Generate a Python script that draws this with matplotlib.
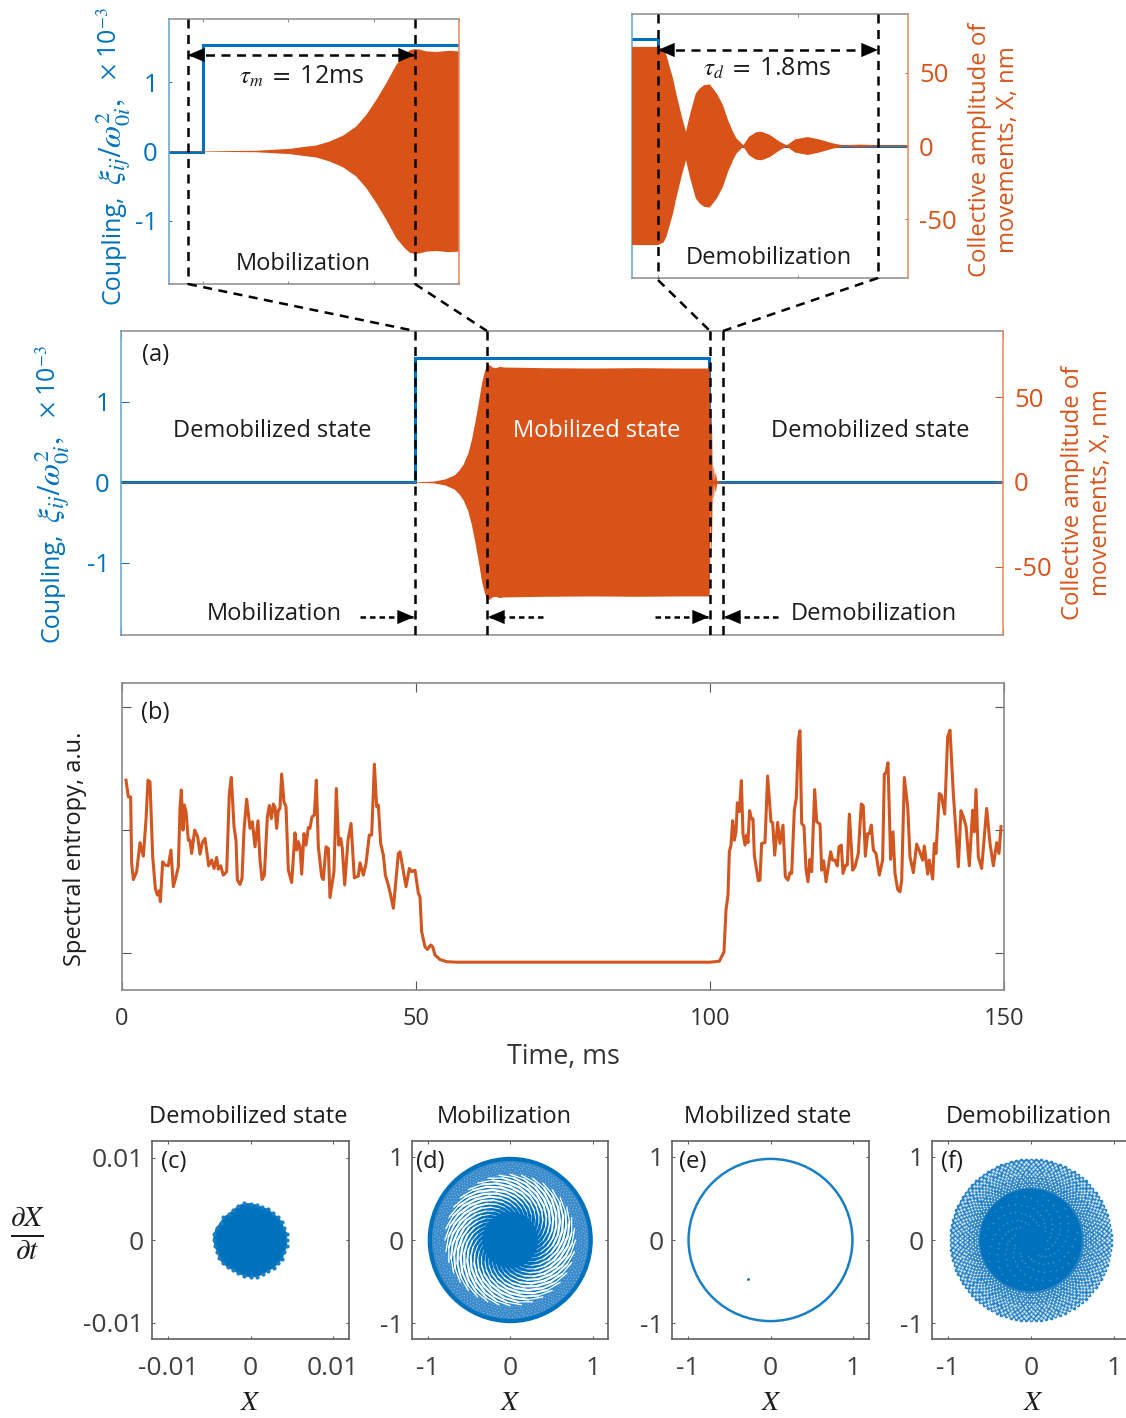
import matplotlib
matplotlib.use('Agg')
import matplotlib.pyplot as plt
import numpy as np
from matplotlib.collections import LineCollection
from matplotlib.patches import Circle, Ellipse, Wedge

plt.rcParams['font.family'] = ['Open Sans', 'DejaVu Sans']
plt.rcParams['mathtext.fontset'] = 'stix'

BLUE = '#0072BD'
ORANGE = '#D95319'
GREY = '#8a8a8a'
W, H = 1126, 1418

# coupling step
step_t = [0, 50, 50, 100, 100, 150]
step_val = [0, 0, 1.54, 1.54, 0, 0]

# envelope of the collective amplitude, nm
env_t = [0, 50, 53.1, 55.1, 55.86, 56.64, 57.42, 58.2, 58.98, 59.57, 60.16, 60.74, 61.33, 61.82, 62.11, 62.4, 62.7,
         63.09, 63.7, 64.4, 65, 72, 80, 88, 95,
         99.81, 100, 100.04, 100.06, 100.08, 100.107, 100.13, 100.17, 100.2, 100.23, 100.27, 100.298, 100.33, 100.37,
         100.42, 100.464, 100.5, 100.536, 100.56, 100.61, 100.65, 100.7, 100.74, 100.8, 100.87, 100.92, 100.98,
         101.07, 101.15, 101.25, 101.32, 101.44, 101.57, 101.79, 102, 150]
env_amp = [0.15, 0.15, 0.5, 1.8, 3, 4.1, 6.8, 10.7, 17, 24.9, 35.1, 46.4, 58.9, 65.7, 68.7, 69.6, 69.2,
           68, 67.6, 68.4, 68, 67.6, 67.4, 67.6, 67.4,
           67.4, 67.4, 65.6, 61.8, 55, 46, 35.7, 20, 9.7, 22, 35.7, 39.1, 41.4, 41.9,
           35.7, 27.8, 17.6, 9.7, 5.2, 0.5, 6.3, 9.3, 9.7, 7.5, 2.9, 0.5, 4.5,
           6.1, 4.5, 1.8, 0.5, 0.9, 0.5, 0.5, 0.15, 0.15]

# spectral entropy, a.u.
ent_t = [0.68, 1.08, 1.47, 1.64, 1.93, 2.49, 3.06, 3.63, 4.08, 4.42, 4.76, 5.22, 5.67, 6.01, 6.35, 6.52, 6.92,
         7.31, 7.88, 8.33, 8.73, 9.18, 9.58, 9.86, 10.09, 10.37, 10.60, 10.88, 11.28, 11.56, 11.85, 12.36,
         12.87, 13.27, 13.66, 14.12, 14.74, 15.25, 15.65, 16.10, 16.38, 16.78, 17.23, 17.80, 18.25, 18.59,
         19.05, 19.39, 19.62, 20.07, 20.41, 20.75, 21.20, 21.77, 22.17, 22.62, 23.13, 23.47, 23.81, 24.21,
         24.72, 25.06, 25.40, 25.74, 26.02, 26.30, 26.59, 26.87, 27.15, 27.55, 27.89, 28.29, 28.86, 29.42,
         29.71, 29.99, 30.27, 30.56, 30.95, 31.29, 31.69, 31.97, 32.31, 32.71, 33.05, 33.39, 33.96, 34.24,
         34.69, 35.09, 35.37, 36.05, 36.45, 36.85, 37.19, 37.47, 37.87, 38.44, 38.95, 39.51, 40.19, 40.48,
         41.04, 41.50, 42.06, 42.46, 42.92, 43.31, 43.59, 43.99, 44.45, 44.79, 45.30, 45.69, 46.15, 47.00,
         47.28, 48.30, 48.87, 49.26, 49.83, 50.40, 50.68, 50.96, 51.53, 51.93, 52.50, 52.83, 53.23, 54.08,
         55.22, 56.92, 100.0,
         101.59, 102.38, 102.72, 103.06, 103.29, 103.57, 103.85, 104.14, 104.42, 104.65, 104.99, 105.33,
         105.61, 105.95, 106.23, 106.46, 106.74, 107.03, 107.31, 107.54, 108.22, 108.50, 108.78, 109.35,
         109.80, 110.37, 110.66, 111.00, 111.51, 111.90, 112.41, 112.81, 113.26, 113.60, 113.89, 114.34,
         114.68, 115.02, 115.30, 115.59, 115.98, 116.32, 116.66, 117.00, 117.29, 117.80, 118.14, 118.71,
         118.99, 119.33, 119.73, 120.52, 120.86, 121.26, 121.65, 121.94, 122.33, 122.62, 123.07, 123.35,
         123.70, 124.26, 124.66, 125.22, 125.73, 126.07, 126.42, 126.81, 127.10, 127.44, 127.78, 128.23,
         128.80, 129.36, 129.65, 129.93, 130.27, 130.72, 131.12, 131.46, 131.91, 132.31, 132.60, 133.05,
         133.62, 134.01, 134.58, 135.15, 135.60, 136.17, 136.45, 137.02, 137.30, 137.87, 138.15, 138.43,
         139.00, 139.34, 139.91, 140.42, 140.82, 141.38, 142.23, 142.68, 143.08, 143.54, 144.10, 144.67,
         144.95, 145.24, 145.63, 146.20, 147.05, 147.62, 148.19, 148.75, 149.15, 149.49]
ent_val = [0.703, 0.635, 0.635, 0.366, 0.299, 0.331, 0.449, 0.394, 0.541, 0.703, 0.696, 0.392, 0.263, 0.236, 0.253,
           0.209, 0.371, 0.358, 0.355, 0.419, 0.270, 0.310, 0.351, 0.588, 0.663, 0.500, 0.602, 0.575, 0.459, 0.459,
           0.405, 0.500, 0.473, 0.402, 0.449, 0.466, 0.355, 0.378, 0.344, 0.389, 0.341, 0.355, 0.317, 0.331, 0.649,
           0.714, 0.514, 0.459, 0.297, 0.279, 0.304, 0.500, 0.626, 0.507, 0.534, 0.432, 0.538, 0.378, 0.299, 0.317,
           0.554, 0.600, 0.547, 0.606, 0.592, 0.507, 0.581, 0.588, 0.728, 0.615, 0.595, 0.337, 0.287, 0.489, 0.419,
           0.453, 0.432, 0.321, 0.486, 0.439, 0.511, 0.507, 0.554, 0.561, 0.703, 0.432, 0.310, 0.299, 0.432, 0.425,
           0.226, 0.331, 0.669, 0.439, 0.466, 0.425, 0.277, 0.459, 0.527, 0.306, 0.313, 0.367, 0.317, 0.364, 0.480,
           0.480, 0.768, 0.595, 0.602, 0.446, 0.398, 0.317, 0.276, 0.236, 0.182, 0.405, 0.412, 0.270, 0.344, 0.331,
           0.337, 0.243, 0.229, 0.087, 0.026, 0.015, 0.033, 0.026, -0.008, -0.026, -0.035, -0.037, -0.037,
           -0.033, 0.005, 0.175, 0.236, 0.412, 0.439, 0.538, 0.459, 0.493, 0.611, 0.575, 0.701, 0.486, 0.439, 0.480,
           0.449, 0.579, 0.546, 0.546, 0.398, 0.294, 0.297, 0.446, 0.449, 0.720, 0.534, 0.530, 0.398, 0.531, 0.446,
           0.520, 0.310, 0.297, 0.327, 0.324, 0.581, 0.629, 0.866, 0.904, 0.527, 0.516, 0.344, 0.290, 0.381, 0.331,
           0.665, 0.534, 0.524, 0.337, 0.375, 0.290, 0.412, 0.378, 0.378, 0.354, 0.432, 0.439, 0.324, 0.358, 0.358,
           0.565, 0.337, 0.351, 0.405, 0.606, 0.598, 0.394, 0.486, 0.486, 0.520, 0.419, 0.405, 0.317, 0.378, 0.728,
           0.733, 0.774, 0.381, 0.493, 0.324, 0.259, 0.249, 0.297, 0.714, 0.595, 0.392, 0.327, 0.443, 0.416, 0.378,
           0.435, 0.321, 0.378, 0.301, 0.446, 0.405, 0.649, 0.642, 0.565, 0.879, 0.906, 0.649, 0.351, 0.579, 0.554,
           0.516, 0.355, 0.581, 0.493, 0.665, 0.392, 0.344, 0.588, 0.446, 0.355, 0.449, 0.405, 0.514]

# phase portraits
c_angle = list(range(0, 360, 10))
c_radius = [.0044, .0045, .0043, .0044, .0043, .0042, .0043, .0042, .0043, .0044, .0045, .0044,
            .0042, .0041, .0043, .0042, .0044, .0045, .0045, .0044, .0043, .0044, .0044, .0043,
            .0042, .0043, .0044, .0045, .0045, .0044, .0043, .0044, .0044, .0045, .0044, .0045]
d_gap_r = [.34, .40, .46, .52, .58, .64, .70, .75, .79]
d_gap_turn = [0, 10, 21, 33, 46, 60, 74, 87, 100]
d_gap_width = [.3, .7, 1.1, 1.5, 1.7, 1.7, 1.5, 1.0, .5]
d_gap_count = 36
d_speck_r = [.80, .83, .86, .89, .92]
d_speck_count = 130
e_width, e_height = 1.98, 1.95
e_dot = (-0.27, -0.47)
f_disc_r = 0.615
f_band_r = 0.965
f_hole_r = [.645, .675, .705, .735, .765, .795, .825, .855, .885, .915, .945]
f_hole_size = [1.2, 1.4, 1.6, 1.8, 2.0, 2.2, 2.4, 2.6, 2.8, 3.0, 3.2]
f_hole_count = 100
f_edge_count = 100
f_arm_r = [.2, .23, .26, .29, .32, .35, .38, .41, .44, .47, .5, .53, .56]
f_arm_turn = [0, 9, 18, 27, 36, 45, 54, 63, 72, 81, 90, 99, 108]
f_arm_count = 11


fig = plt.figure(figsize=(W / 100, H / 100), dpi=100)


def axes_px(x0, y0, x1, y1):
    return fig.add_axes([x0 / W, 1 - y1 / H, (x1 - x0) / W, (y1 - y0) / H])


def style_pair(ax, ax2, xlim, ylim, ylim2, xticks, yticks, yticks2, ticklen, labelsize):
    ax.plot(step_t, step_val, color=BLUE, lw=2.2, solid_joinstyle='miter')
    ax2.fill_between(env_t, -np.array(env_amp), env_amp, color=ORANGE, lw=0)
    ax.set_xlim(xlim)
    ax.set_ylim(ylim)
    ax2.set_ylim(ylim2)
    ax.set_xticks(xticks)
    ax.set_xticklabels([])
    ax.set_yticks(yticks)
    ax.set_yticklabels([str(v) for v in yticks])
    ax2.set_yticks(yticks2)
    ax2.set_yticklabels([str(v) for v in yticks2])
    ax.tick_params(axis='x', direction='in', length=ticklen, width=0.7, color=GREY, top=True)
    ax.tick_params(axis='y', direction='in', length=ticklen, width=0.7, color=BLUE,
                   labelcolor=BLUE, labelsize=labelsize, pad=8)
    ax2.tick_params(axis='y', direction='in', length=ticklen, width=0.7, color=ORANGE,
                    labelcolor=ORANGE, labelsize=labelsize, pad=8)
    for s in ['top', 'bottom']:
        ax.spines[s].set_color(GREY)
        ax.spines[s].set_linewidth(1.1)
    ax.spines['left'].set_color('#5aa5d6')
    ax.spines['left'].set_linewidth(1.1)
    ax.spines['right'].set_visible(False)
    for s in ['top', 'bottom', 'left']:
        ax2.spines[s].set_visible(False)
    ax2.spines['right'].set_color('#e58a5f')
    ax2.spines['right'].set_linewidth(1.1)


# main panel (a)
ax_a = axes_px(121, 331, 1003, 635)
ax_a2 = ax_a.twinx()
style_pair(ax_a, ax_a2, (0, 150), (-1.90, 1.876), (-90.5, 89.3), [0, 50, 100, 150], [-1, 0, 1], [-50, 0, 50], 6, 18.5)

# insets
ax_m = axes_px(169, 19, 459, 284)
ax_m2 = ax_m.twinx()
style_pair(ax_m, ax_m2, (48, 65), (-1.92, 1.92), (-90, 90), [50, 55, 60, 65], [-1, 0, 1], [], 2.5, 18.5)

ax_d = axes_px(632, 14, 908, 278)
ax_d2 = ax_d.twinx()
style_pair(ax_d, ax_d2, (99.814, 101.786), (-1.9, 1.9), (-89.8, 89.8), [100, 101], [], [-50, 0, 50], 2.5, 18.5)

# panel (b)
ax_b = axes_px(122, 683, 1004, 990)
ax_b.plot(ent_t, ent_val, color='#D2561F', lw=2.2)
ax_b.set_xlim(0, 150)
ax_b.set_ylim(-0.15, 1.098)
ax_b.set_xticks([0, 50, 100, 150])
ax_b.set_yticks([0, 0.5, 1])
ax_b.set_yticklabels([])
ax_b.tick_params(axis='both', direction='in', length=6.5, width=0.8, color='#555555', top=True, right=True,
                 labelsize=17, labelcolor='#333333', pad=12)
for s in ax_b.spines.values():
    s.set_color(GREY)
    s.set_linewidth(1.2)


def phase_axes(x0, x1, lim, ticks, labels):
    ax = axes_px(x0, 1141, x1, 1339)
    ax.set_xlim(-lim, lim * (x1 - x0) / 197)
    ax.set_ylim(-lim, lim)
    ax.set_xticks(ticks)
    ax.set_xticklabels(labels)
    ax.set_yticks(ticks)
    ax.set_yticklabels(labels)
    ax.tick_params(axis='both', direction='in', length=2.5, width=0.7, color='#555555', top=True, right=True,
                   labelsize=19, labelcolor='#404040')
    ax.tick_params(axis='x', pad=12)
    ax.tick_params(axis='y', pad=6)
    for s in ax.spines.values():
        s.set_color('#606060')
        s.set_linewidth(1.2)
    return ax


# (c)
ax_c = phase_axes(152, 349, 0.012, [-0.01, 0, 0.01], ['-0.01', '0', '0.01'])
ang = np.deg2rad(c_angle)
cx = np.array(c_radius) * np.cos(ang)
cy = np.array(c_radius) * np.sin(ang)
ax_c.fill(cx, cy, color=BLUE, lw=0.5)
ax_c.scatter(cx, cy, s=9, color='#1a7fc4', lw=0)

# (d)
ax_dp = phase_axes(412, 608, 1.19, [-1, 0, 1], ['-1', '0', '1'])
ax_dp.add_patch(Circle((0, 0), 1.0, color=BLUE, lw=0))
ax_dp.add_patch(Wedge((0, 0), 0.95, 0, 360, width=0.18, color='#3a8ccb', lw=0))
for i, r in enumerate(d_speck_r):
    th = (np.arange(d_speck_count) + 0.5 * (i % 2)) * 2 * np.pi / d_speck_count
    ax_dp.scatter(r * np.cos(th), r * np.sin(th), s=1.0, color='white', alpha=0.3, lw=0)
gap_r = np.array(d_gap_r)
gap_turn = np.deg2rad(d_gap_turn)
for start in np.arange(d_gap_count) * 2 * np.pi / d_gap_count:
    gx = gap_r * np.cos(start + gap_turn)
    gy = gap_r * np.sin(start + gap_turn)
    pts = np.column_stack([gx, gy])
    segs = np.stack([pts[:-1], pts[1:]], axis=1)
    ax_dp.add_collection(LineCollection(segs, colors='white', linewidths=d_gap_width[:-1], capstyle='round'))

# (e)
ax_e = phase_axes(672, 869, 1.19, [-1, 0, 1], ['-1', '0', '1'])
ax_e.add_patch(Ellipse((0, 0), e_width, e_height, fill=False, edgecolor='#1a80c4', lw=1.8))
ax_e.scatter([e_dot[0]], [e_dot[1]], s=4, color=BLUE, lw=0)

# (f)
ax_f = phase_axes(932, 1130, 1.19, [-1, 0, 1], ['-1', '0', '1'])
ax_f.add_patch(Circle((0, 0), f_band_r, color='#2a84c7', lw=0))
th = np.arange(f_edge_count) * 2 * np.pi / f_edge_count
ax_f.scatter(f_band_r * np.cos(th), f_band_r * np.sin(th), s=7, color='#2a84c7', lw=0)
for i, r in enumerate(f_hole_r):
    th = (np.arange(f_hole_count) + 0.5 * (i % 2)) * 2 * np.pi / f_hole_count
    ax_f.scatter(r * np.cos(th), r * np.sin(th), s=f_hole_size[i], color='white', alpha=0.85, lw=0)
ax_f.add_patch(Circle((0, 0), f_disc_r, color=BLUE, lw=0))
arm_r = np.array(f_arm_r)
arm_turn = np.deg2rad(f_arm_turn)
for start in np.arange(f_arm_count) * 2 * np.pi / f_arm_count:
    ax_f.scatter(arm_r * np.cos(start + arm_turn), arm_r * np.sin(start + arm_turn), s=1.5, color='#3d8fcc', lw=0)

# overlay in pixel coordinates for the annotations
ov = fig.add_axes([0, 0, 1, 1], zorder=20)
ov.set_xlim(0, W)
ov.set_ylim(H, 0)
ov.axis('off')
ov.patch.set_alpha(0)

dash = dict(color='black', lw=1.8, linestyle=(0, (3.6, 2.6)))
for xs, ys in [([188, 188], [19, 284]), ([415, 415], [19, 284]), ([188, 415], [284, 331]), ([415, 487], [284, 331]),
               ([658, 658], [14, 278]), ([878, 878], [14, 278]), ([658, 710], [280, 331]), ([878, 723], [278, 331]),
               ([415, 415], [331, 635]), ([487, 487], [331, 635]), ([710, 710], [331, 635]), ([723, 723], [331, 635])]:
    ov.plot(xs, ys, **dash)


def arrow_head(tip, tail, y):
    ov.annotate('', xy=(tip, y), xytext=(tail, y),
                arrowprops=dict(arrowstyle='-|>,head_length=0.75,head_width=0.32', color='black', lw=0,
                                shrinkA=0, shrinkB=0, mutation_scale=16))


ov.plot([190, 413], [55, 55], **dash)
arrow_head(188, 205, 55)
arrow_head(415, 398, 55)
ov.plot([660, 876], [50, 50], **dash)
arrow_head(658, 675, 50)
arrow_head(878, 861, 50)
for x0, x1 in [(360, 414), (543, 488), (655, 709), (778, 724)]:
    ov.plot([x0, x1], [617, 617], color='black', lw=1.8, linestyle=(0, (2.2, 1.6)))
    arrow_head(x1, x1 + (16 if x0 > x1 else -16), 617)

FS = 17
INK = '#1c1c1c'
ov.text(142, 355, '(a)', fontsize=FS, va='center', color=INK)
ov.text(141, 713, '(b)', fontsize=FS, va='center', color=INK)
ov.text(272, 431, 'Demobilized state', fontsize=FS, ha='center', va='center', color=INK)
ov.text(597, 431, 'Mobilized state', fontsize=FS, ha='center', va='center', color='white')
ov.text(870, 431, 'Demobilized state', fontsize=FS, ha='center', va='center', color=INK)
ov.text(274, 614, 'Mobilization', fontsize=FS, ha='center', va='center', color=INK)
ov.text(874, 614, 'Demobilization', fontsize=FS, ha='center', va='center', color=INK)
ov.text(303, 264, 'Mobilization', fontsize=FS, ha='center', va='center', color=INK)
ov.text(769, 258, 'Demobilization', fontsize=FS, ha='center', va='center', color=INK)
ov.text(302, 77, r'$\tau_m\ =$ 12ms', fontsize=FS + 1, ha='center', va='center', color=INK)
ov.text(767, 69, r'$\tau_d\ =$ 1.8ms', fontsize=FS + 1, ha='center', va='center', color=INK)

# coupling label is three pieces so the math can be larger than the words
for x, dy in [(52, 338), (113, 0)]:
    ov.text(x, 249 + dy, 'Coupling,', fontsize=18, rotation=90, ha='center', va='center', color=BLUE)
    ov.text(x, 142 + dy, r'$\xi_{ij}/\omega_{0i}^{2},$', fontsize=23, rotation=90, ha='center', va='center', color=BLUE)
    ov.text(x - 2, 43 + dy, r'$\times$ 10$^{-3}$', fontsize=18, rotation=90, ha='center', va='center', color=BLUE)
collective = 'Collective amplitude of\nmovements, X, nm'
ov.text(1087, 493, collective, fontsize=17.2, rotation=90, ha='center', va='center', color=ORANGE, multialignment='center')
ov.text(994, 150, collective, fontsize=17.2, rotation=90, ha='center', va='center', color=ORANGE, multialignment='center')
ov.text(75, 849, 'Spectral entropy, a.u.', fontsize=17, rotation=90, ha='center', va='center', color=INK)
ov.text(563, 1057, 'Time, ms', fontsize=19.4, ha='center', va='center', color='#333333')

for x, s in [(248, 'Demobilized state'), (504, 'Mobilization'), (768, 'Mobilized state'), (1029, 'Demobilization')]:
    ov.text(x, 1117, s, fontsize=FS, ha='center', va='center', color=INK)
for x, s in [(174, '(c)'), (430, '(d)'), (693, '(e)'), (952, '(f)')]:
    ov.text(x, 1162, s, fontsize=FS, ha='center', va='center', color=INK)
for x in [250, 510, 771, 1033]:
    ov.text(x, 1403, '$X$', fontsize=20, ha='center', va='center', color=INK)
ov.text(27, 1234, r'$\frac{\partial X}{\partial t}$', fontsize=30, ha='center', va='center', color=INK)

fig.savefig('out.png', dpi=100)
